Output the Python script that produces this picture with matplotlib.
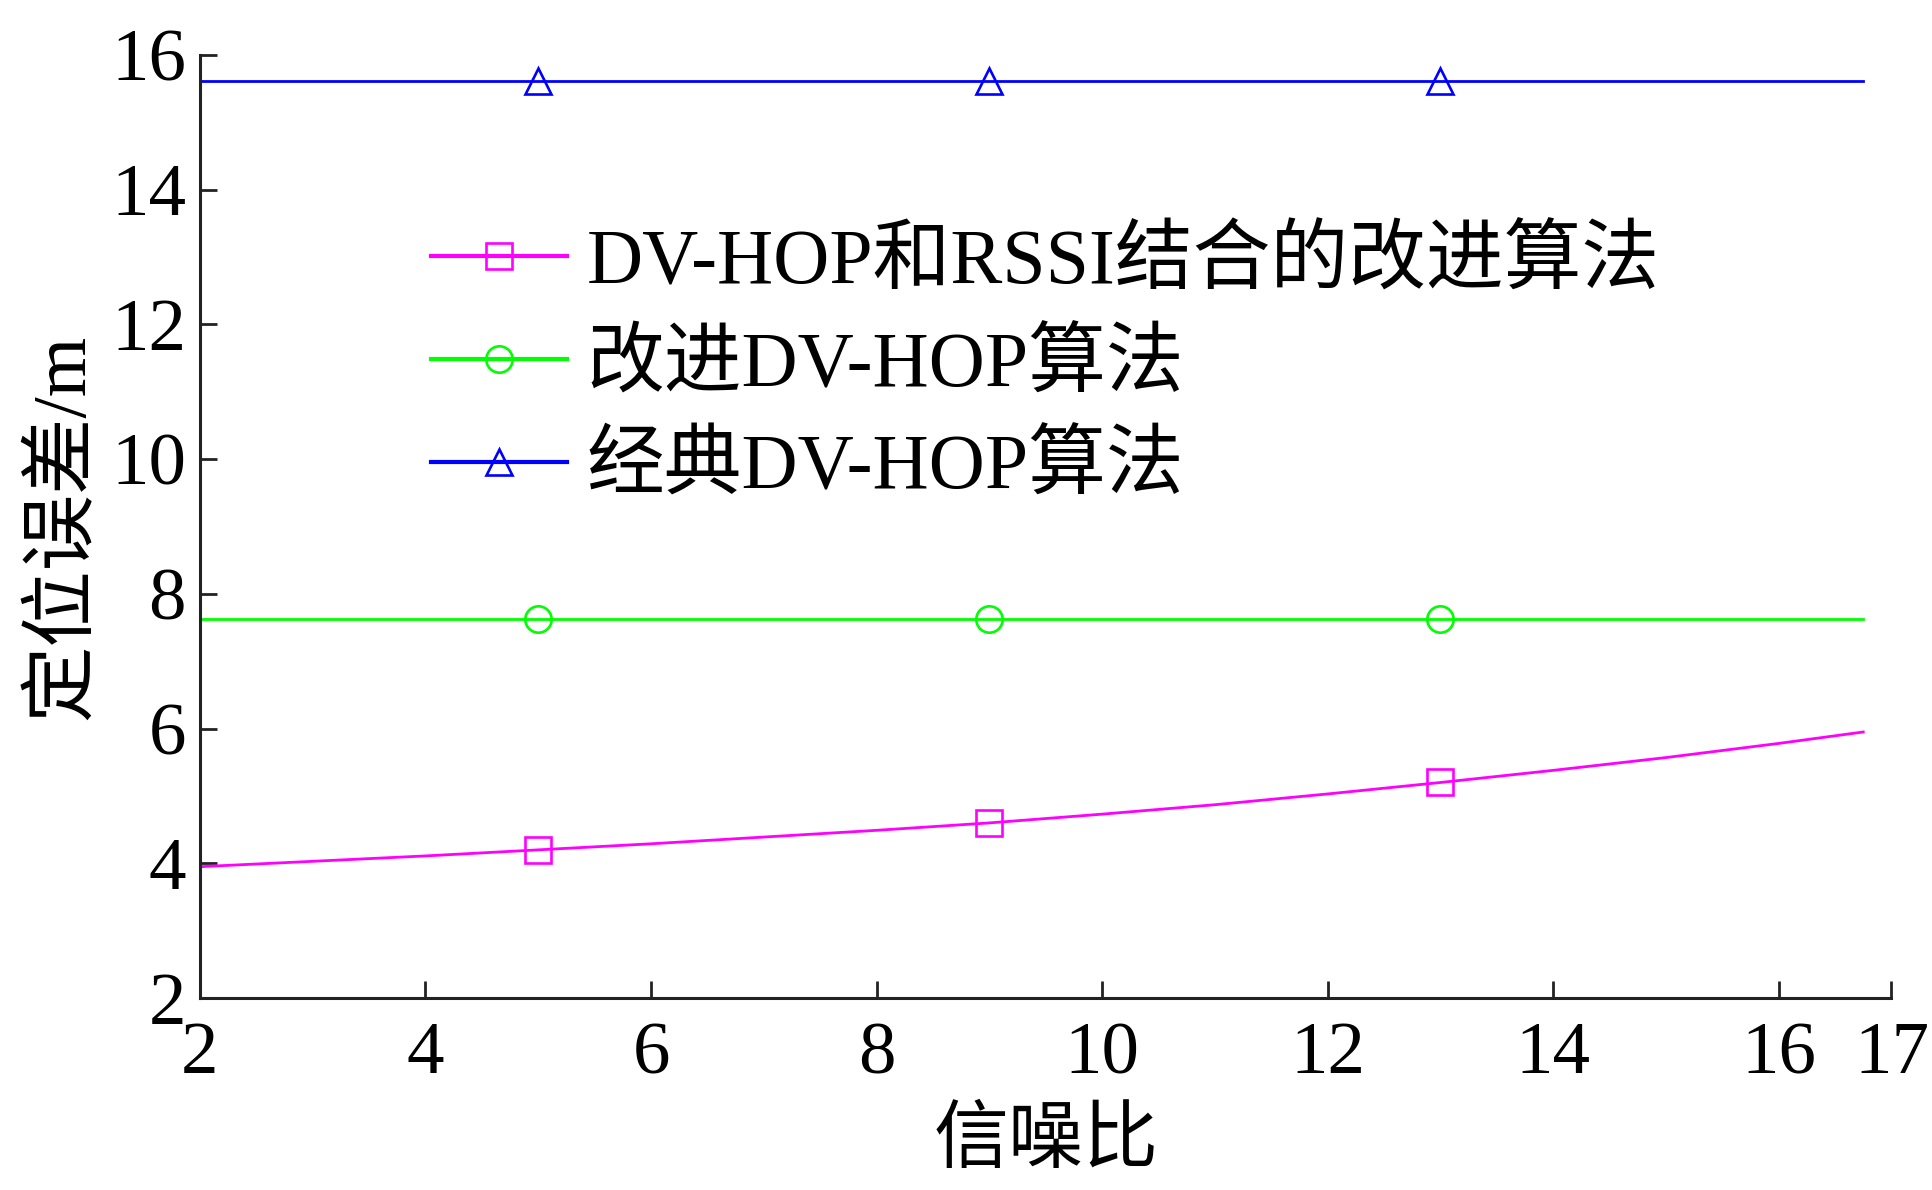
import numpy as np
import matplotlib
matplotlib.use("Agg")
import matplotlib.pyplot as plt

plt.rcParams['font.family'] = ['Liberation Serif', 'Noto Sans CJK SC']

# signal-to-noise ratio and positioning error
snr = [2, 3, 4, 5, 6, 7, 8, 9, 10, 11, 12, 13, 14, 15, 16, 16.75]
err_combined = [3.95, 4.03, 4.11, 4.2, 4.29, 4.39, 4.49, 4.6, 4.73, 4.87, 5.03, 5.2, 5.38, 5.57, 5.78, 5.95]
err_improved = [7.62] * len(snr)
err_classic = [15.62] * len(snr)

labels = ['DV-HOP和RSSI结合的改进算法', '改进DV-HOP算法', '经典DV-HOP算法']
marker_idx = [3, 7, 11]  # markers at snr 5, 9, 13

xticks = [2, 4, 6, 8, 10, 12, 14, 16, 17]
yticks = [2, 4, 6, 8, 10, 12, 14, 16]

fig = plt.figure(figsize=(19.32, 11.90), dpi=100)
ax = fig.add_axes([0.1035, 0.1613, 0.8755, 0.7925])

series = [
    (err_combined, '#FF00FF', 's'),
    (err_improved, '#00FF00', 'o'),
    (err_classic, '#0000FF', '^'),
]
for (ys, col, mk), lab in zip(series, labels):
    ax.plot(snr, ys, color=col, lw=2, marker=mk, markersize=19,
            markerfacecolor='none', markeredgecolor=col, markeredgewidth=1.9,
            markevery=marker_idx, label=lab)

ax.set_xlim(2, 17)
ax.set_ylim(2, 16)
ax.set_xticks(xticks)
ax.set_yticks(yticks)

for side in ['top', 'right']:
    ax.spines[side].set_visible(False)
for side in ['left', 'bottom']:
    ax.spines[side].set_linewidth(2.2)
    ax.spines[side].set_color('#222222')

ax.tick_params(direction='in', length=12, width=2, color='#222222', labelsize=54)
ax.tick_params(axis='x', pad=17)
ax.tick_params(axis='y', pad=10)

ax.set_xlabel('信噪比', fontsize=54, labelpad=14)
ax.set_ylabel('定位误差/m', fontsize=55, labelpad=8)

leg = ax.legend(loc='center left', bbox_to_anchor=(0.1365, 0.669), frameon=False,
                fontsize=56, handlelength=1.75, handletextpad=0.25,
                labelspacing=0.39, borderpad=0, borderaxespad=0, numpoints=1)
for line in leg.get_lines():
    line.set_linewidth(3)

fig.savefig('out.png', dpi=100)
